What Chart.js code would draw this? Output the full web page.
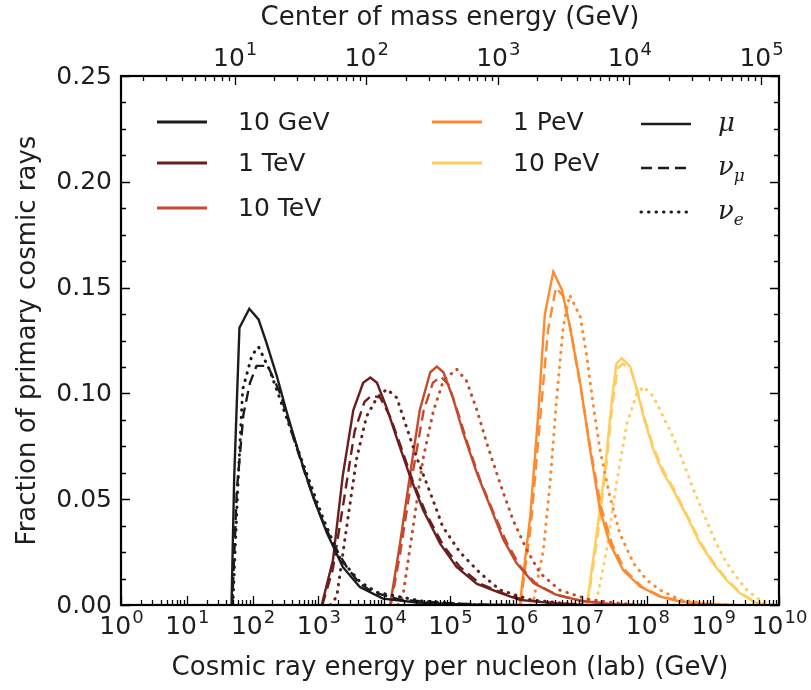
<!DOCTYPE html>
<html>
<head>
<meta charset="utf-8">
<script src="https://cdn.jsdelivr.net/npm/chart.js@4.4.1/dist/chart.umd.min.js"></script>
<style>
  html, body { margin: 0; padding: 0; background: #fff; }
  canvas { display: block; }
</style>
</head>
<body>
<canvas id="grafico" width="811" height="690"></canvas>
<script>
// curves: [log10(E_lab / GeV), fraction of primaries]
const mu_10GeV   = [[1.68,0],[1.72,0.06],[1.80,0.131],[1.95,0.140],[2.09,0.135],[2.21,0.124],[2.37,0.108],[2.52,0.091],[2.72,0.070],[2.92,0.051],[3.13,0.034],[3.37,0.018],[3.63,0.0085],[3.98,0.003],[4.5,0.0012],[5.2,0.0003],[6.0,0]];
const numu_10GeV = [[1.69,0],[1.76,0.054],[1.86,0.090],[1.96,0.105],[2.06,0.113],[2.23,0.113],[2.42,0.100],[2.61,0.080],[2.82,0.060],[3.02,0.043],[3.22,0.029],[3.43,0.018],[3.63,0.010],[3.83,0.006],[4.24,0.0025],[5.0,0.0008],[5.6,0]];
const nue_10GeV  = [[1.70,0],[1.74,0.03],[1.78,0.059],[1.85,0.102],[1.99,0.118],[2.09,0.122],[2.26,0.111],[2.42,0.097],[2.67,0.075],[2.87,0.058],[3.07,0.041],[3.33,0.022],[3.63,0.011],[3.89,0.006],[4.54,0.002],[5.4,0]];

const mu_1TeV   = [[3.05,0],[3.22,0.021],[3.37,0.061],[3.53,0.092],[3.68,0.105],[3.79,0.1075],[3.89,0.105],[4.04,0.093],[4.19,0.079],[4.39,0.061],[4.59,0.045],[4.85,0.029],[5.10,0.018],[5.41,0.010],[5.76,0.0057],[6.06,0.0024],[6.52,0.001],[7.0,0]];
const numu_1TeV = [[3.06,0],[3.22,0.017],[3.40,0.052],[3.55,0.082],[3.70,0.096],[3.81,0.099],[3.94,0.098],[4.09,0.089],[4.24,0.076],[4.44,0.058],[4.64,0.043],[4.90,0.028],[5.15,0.018],[5.46,0.010],[5.81,0.0055],[6.11,0.0024],[6.57,0.001],[7.0,0]];
const nue_1TeV  = [[3.18,0],[3.28,0.004],[3.43,0.037],[3.58,0.069],[3.73,0.089],[3.89,0.098],[4.04,0.102],[4.19,0.098],[4.34,0.084],[4.49,0.070],[4.70,0.053],[4.89,0.037],[5.15,0.025],[5.46,0.015],[5.76,0.0071],[6.22,0.0025],[6.67,0.001],[7.1,0]];

const mu_10TeV   = [[4.09,0],[4.24,0.029],[4.39,0.061],[4.54,0.092],[4.70,0.110],[4.80,0.1127],[4.90,0.110],[5.05,0.0974],[5.20,0.0814],[5.41,0.0622],[5.61,0.0466],[5.81,0.031],[6.01,0.0198],[6.27,0.0104],[6.6,0.005],[6.98,0.002],[7.43,0.0005],[7.8,0]];
const numu_10TeV = [[4.10,0],[4.24,0.024],[4.42,0.060],[4.60,0.092],[4.74,0.105],[4.86,0.108],[4.98,0.104],[5.12,0.091],[5.27,0.076],[5.47,0.058],[5.67,0.043],[5.87,0.029],[6.07,0.018],[6.32,0.0095],[6.65,0.0045],[7.03,0.0018],[7.48,0.0004],[7.8,0]];
const nue_10TeV  = [[4.21,0],[4.29,0.0055],[4.44,0.037],[4.59,0.069],[4.75,0.092],[4.90,0.106],[5.10,0.1115],[5.25,0.106],[5.41,0.092],[5.56,0.0764],[5.76,0.0575],[5.96,0.040],[6.17,0.0259],[6.37,0.015],[6.67,0.007],[7.13,0.0024],[7.58,0.0008],[8.0,0]];

const mu_1PeV   = [[6.06,0],[6.22,0.042],[6.34,0.0898],[6.44,0.137],[6.57,0.1575],[6.70,0.149],[6.82,0.132],[6.98,0.1047],[7.13,0.0733],[7.28,0.0449],[7.43,0.029],[7.63,0.0165],[7.89,0.0087],[8.19,0.004],[8.50,0.0016],[8.95,0.0004],[9.3,0]];
const numu_1PeV = [[6.07,0],[6.23,0.038],[6.37,0.088],[6.49,0.130],[6.61,0.150],[6.72,0.146],[6.84,0.129],[6.99,0.102],[7.14,0.073],[7.29,0.047],[7.46,0.029],[7.66,0.0165],[7.92,0.0085],[8.22,0.0038],[8.65,0.001],[9.0,0]];
const nue_1PeV  = [[6.22,0],[6.27,0.0024],[6.42,0.026],[6.52,0.0575],[6.62,0.097],[6.72,0.1315],[6.82,0.1465],[6.98,0.1362],[7.08,0.1172],[7.18,0.0937],[7.28,0.0733],[7.43,0.0512],[7.58,0.0339],[7.79,0.0197],[7.99,0.0118],[8.19,0.0071],[8.50,0.0024],[8.95,0.0005],[9.3,0]];

const mu_10PeV   = [[7.08,0],[7.23,0.0339],[7.36,0.0654],[7.46,0.0969],[7.53,0.1141],[7.61,0.1166],[7.74,0.1127],[7.84,0.1017],[7.94,0.0891],[8.09,0.0734],[8.24,0.0624],[8.39,0.0545],[8.60,0.0419],[8.80,0.0291],[9.00,0.0196],[9.20,0.0118],[9.41,0.0055],[9.61,0.0016],[9.79,0]];
const numu_10PeV = [[7.09,0],[7.24,0.032],[7.37,0.064],[7.47,0.095],[7.55,0.112],[7.63,0.114],[7.75,0.111],[7.85,0.101],[7.95,0.089],[8.10,0.074],[8.25,0.063],[8.40,0.055],[8.61,0.042],[8.81,0.0295],[9.01,0.0198],[9.21,0.012],[9.42,0.0056],[9.62,0.0017],[9.8,0]];
const nue_10PeV  = [[7.13,0],[7.23,0.0024],[7.38,0.026],[7.53,0.0575],[7.69,0.0858],[7.84,0.100],[7.94,0.1032],[8.09,0.0985],[8.24,0.089],[8.39,0.0795],[8.55,0.067],[8.70,0.0545],[8.85,0.0435],[9.00,0.0323],[9.15,0.0228],[9.31,0.015],[9.51,0.0071],[9.71,0.0024],[9.86,0.0005],[9.95,0]];

const energias = ['10 GeV', '1 TeV', '10 TeV', '1 PeV', '10 PeV'];
const cores = ['#1c1c1c', '#6b1e1e', '#c54a2c', '#ff8a2e', '#ffcd5c'];
const curvas = [
  [mu_10GeV, numu_10GeV, nue_10GeV],
  [mu_1TeV, numu_1TeV, nue_1TeV],
  [mu_10TeV, numu_10TeV, nue_10TeV],
  [mu_1PeV, numu_1PeV, nue_1PeV],
  [mu_10PeV, numu_10PeV, nue_10PeV]
];
const yTicks = [0, 0.05, 0.10, 0.15, 0.20, 0.25];

const MP2 = 2 * 0.938; // s = 2 m_p E for fixed target
const FONT = '"DejaVu Sans", sans-serif';
const TXT = '#1e1e1e';

// line style per particle: mu solid, nu_mu dashed, nu_e dotted
const estilos = [
  { borderDash: [], borderWidth: 2.4, borderCapStyle: 'butt' },
  { borderDash: [11, 6], borderWidth: 2.4, borderCapStyle: 'butt' },
  { borderDash: [0.5, 7], borderWidth: 3, borderCapStyle: 'round' }
];

const datasets = [];
curvas.forEach((grupo, i) => {
  grupo.forEach((pts, j) => {
    datasets.push({
      label: energias[i] + ' ' + j,
      data: pts.map(p => ({ x: Math.pow(10, p[0]), y: p[1] })),
      borderColor: cores[i],
      pointRadius: 0,
      tension: 0,
      fill: false,
      ...estilos[j]
    });
  });
});

function pot10(ctx, x, base, exp, size) {
  const sup = Math.round(size * 0.7);
  ctx.font = size + 'px ' + FONT;
  const w1 = ctx.measureText('10').width;
  ctx.font = sup + 'px ' + FONT;
  const w2 = ctx.measureText(String(exp)).width;
  const x0 = x - (w1 + w2) / 2;
  ctx.textAlign = 'left';
  ctx.textBaseline = 'alphabetic';
  ctx.font = size + 'px ' + FONT;
  ctx.fillText('10', x0, base);
  ctx.font = sup + 'px ' + FONT;
  ctx.fillText(String(exp), x0 + w1 + 1, base - size * 0.45);
}

const eixos = {
  id: 'eixos',
  afterDraw(chart) {
    const ctx = chart.ctx;
    const a = chart.chartArea;
    const sx = chart.scales.x, sx2 = chart.scales.x2, sy = chart.scales.y;
    ctx.save();
    ctx.strokeStyle = '#000';
    ctx.fillStyle = TXT;

    // tick marks pointing inward
    ctx.lineWidth = 1.3;
    ctx.beginPath();
    for (let d = 0; d <= 10; d++) {
      for (let k = 1; k <= 9; k++) {
        const v = k * Math.pow(10, d);
        if (v > 1e10) break;
        const px = Math.round(sx.getPixelForValue(v)) + 0.5;
        const len = k === 1 ? 9 : 5;
        ctx.moveTo(px, a.bottom); ctx.lineTo(px, a.bottom - len);
      }
    }
    for (let d = 0; d <= 5; d++) {
      for (let k = 1; k <= 9; k++) {
        const v = k * Math.pow(10, d);
        if (v < sx2.min || v > sx2.max) continue;
        const px = Math.round(sx2.getPixelForValue(v)) + 0.5;
        const len = k === 1 ? 9 : 5;
        ctx.moveTo(px, a.top); ctx.lineTo(px, a.top + len);
      }
    }
    for (let i = 0; i <= 20; i++) {
      const v = i * 0.0125;
      const py = Math.round(sy.getPixelForValue(v)) + 0.5;
      const len = i % 4 === 0 ? 9 : 5;
      ctx.moveTo(a.left, py); ctx.lineTo(a.left + len, py);
      ctx.moveTo(a.right, py); ctx.lineTo(a.right - len, py);
    }
    ctx.stroke();

    // frame
    ctx.lineWidth = 2.2;
    ctx.strokeRect(a.left, a.top, a.right - a.left, a.bottom - a.top);

    // tick labels
    for (let d = 0; d <= 10; d++) pot10(ctx, sx.getPixelForValue(Math.pow(10, d)), 634, d, 25);
    for (let d = 1; d <= 5; d++) pot10(ctx, sx2.getPixelForValue(Math.pow(10, d)), 66, d, 25);
    ctx.font = '25px ' + FONT;
    ctx.textAlign = 'right';
    ctx.textBaseline = 'middle';
    yTicks.forEach(v => ctx.fillText(v.toFixed(2), 112, sy.getPixelForValue(v) + 1));

    // axis titles
    ctx.font = '26px ' + FONT;
    ctx.textAlign = 'center';
    ctx.textBaseline = 'alphabetic';
    ctx.fillText('Cosmic ray energy per nucleon (lab) (GeV)', (a.left + a.right) / 2, 675);
    ctx.fillText('Center of mass energy (GeV)', (a.left + a.right) / 2, 25);
    ctx.save();
    ctx.translate(35, (a.top + a.bottom) / 2);
    ctx.rotate(-Math.PI / 2);
    ctx.fillText('Fraction of primary cosmic rays', 0, 0);
    ctx.restore();

    // legend
    const linhas = [122, 163, 208];
    ctx.font = '25px ' + FONT;
    ctx.textAlign = 'left';
    ctx.textBaseline = 'middle';
    energias.forEach((nome, i) => {
      const col = i < 3 ? 0 : 1;
      const row = i < 3 ? i : i - 3;
      const x0 = col === 0 ? 157 : 432;
      const y = linhas[row];
      ctx.strokeStyle = cores[i];
      ctx.lineWidth = 3;
      ctx.setLineDash([]);
      ctx.beginPath(); ctx.moveTo(x0, y); ctx.lineTo(x0 + 50, y); ctx.stroke();
      ctx.fillText(nome, x0 + 81, y + 1);
    });
    const simbolos = [['\u03BC', ''], ['\u03BD', '\u03BC'], ['\u03BD', 'e']];
    const linhas3 = [124, 168, 212];
    simbolos.forEach((s, j) => {
      const y = linhas3[j];
      ctx.strokeStyle = '#1c1c1c';
      ctx.lineWidth = estilos[j].borderWidth;
      ctx.lineCap = estilos[j].borderCapStyle;
      ctx.setLineDash(estilos[j].borderDash);
      ctx.beginPath(); ctx.moveTo(641, y); ctx.lineTo(691, y); ctx.stroke();
      ctx.setLineDash([]);
      ctx.font = 'italic 26px "DejaVu Serif", serif';
      ctx.textBaseline = 'middle';
      ctx.fillText(s[0], 718, y);
      if (s[1]) {
        const w = ctx.measureText(s[0]).width;
        ctx.font = 'italic 17px "DejaVu Serif", serif';
        ctx.fillText(s[1], 718 + w, y + 9);
      }
    });
    ctx.restore();
  }
};

const config = {
  type: 'line',
  data: { datasets: datasets },
  options: {
    responsive: false,
    animation: false,
    devicePixelRatio: 1,
    layout: { padding: { left: 0, right: 32, top: 0, bottom: 0 } },
    plugins: { legend: { display: false }, tooltip: { enabled: false } },
    scales: {
      x: {
        type: 'logarithmic', position: 'bottom', min: 1, max: 1e10,
        grid: { display: false }, border: { display: false },
        ticks: { display: false },
        afterFit(s) { s.height = 85; }
      },
      x2: {
        type: 'logarithmic', position: 'top',
        min: Math.sqrt(MP2 * 1), max: Math.sqrt(MP2 * 1e10),
        grid: { display: false }, border: { display: false },
        ticks: { display: false },
        afterFit(s) { s.height = 76; }
      },
      y: {
        type: 'linear', min: 0, max: 0.25,
        grid: { display: false }, border: { display: false },
        ticks: { display: false },
        afterFit(s) { s.width = 121; }
      }
    }
  },
  plugins: [eixos]
};

new Chart(document.getElementById('grafico'), config);
</script>
</body>
</html>
